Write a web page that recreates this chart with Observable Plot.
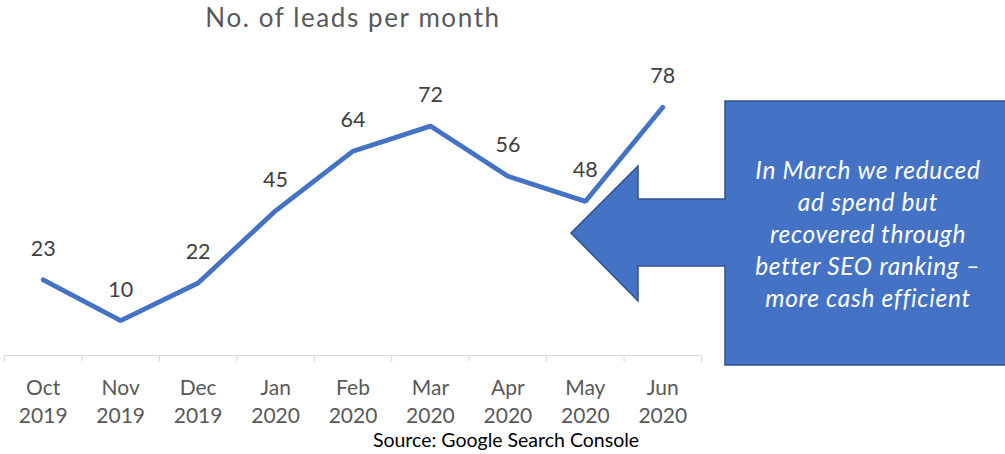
<!DOCTYPE html>
<html><head><meta charset="utf-8">
<script src="https://cdn.jsdelivr.net/npm/d3@7"></script>
<script src="https://cdn.jsdelivr.net/npm/@observablehq/plot@0.6"></script>
<style>html,body{margin:0;padding:0;background:#fff;}</style>
</head><body><div id="chart"></div>
<script>
const months = ["Oct", "Nov", "Dec", "Jan", "Feb", "Mar", "Apr", "May", "Jun"];
const years = ["2019", "2019", "2019", "2020", "2020", "2020", "2020", "2020", "2020"];
const leads = [23, 10, 22, 45, 64, 72, 56, 48, 78];
const chartTitle = "No. of leads per month";
const sourceNote = "Source: Google Search Console";
const calloutLines = ["In March we reduced", "ad spend but", "recovered through", "better SEO ranking –", "more cash efficient"];

const FONT = "Lato, 'Open Sans', sans-serif";
const data = leads.map((v, i) => ({i, v, label: months[i] + "\n" + years[i]}));
const boundaries = d3.range(months.length + 1).map(k => k - 0.5);

function callout() {
  const g = d3.create("svg:g");
  g.append("path")
    .attr("d", "M571,233 L638,166 L638,199 L725,199 L725,101 L1012,101 L1012,365 L725,365 L725,266 L638,266 L638,301 Z")
    .attr("fill", "#4472C4").attr("stroke", "#2F528F").attr("stroke-width", 1.5);
  const t = g.append("text").attr("fill", "#ffffff").attr("font-style", "italic")
    .attr("font-size", 24.5).attr("letter-spacing", 0.7).attr("font-family", FONT).attr("text-anchor", "middle");
  calloutLines.forEach((s, k) => t.append("tspan").attr("x", 868).attr("y", 170 + 32 * k).attr("dy", "0.35em").text(s));
  return g.node();
}

const chart = Plot.plot({
  width: 1005,
  height: 454,
  marginLeft: 4,
  marginRight: 304,
  marginTop: 100.5,
  marginBottom: 99,
  style: {fontFamily: FONT, color: "#d9d9d9", background: "#ffffff", overflow: "visible"},
  x: {domain: [-0.5, months.length - 0.5], ticks: boundaries, tickSize: 7, tickFormat: () => "", line: true, label: null},
  y: {domain: [0, 80], insetBottom: 3.5, axis: null},
  marks: [
    Plot.lineY(data, {x: "i", y: "v", stroke: "#4472C4", strokeWidth: 4.8, strokeLinejoin: "miter", strokeLinecap: "round"}),
    Plot.text(data, {x: "i", y: "v", text: d => String(d.v), dy: -31, fill: "#404040", fontSize: 21.5, lineAnchor: "middle"}),
    Plot.text(data, {x: "i", text: "label", frameAnchor: "bottom", dy: 45, fill: "#595959", fontSize: 21, lineHeight: 1.33, lineAnchor: "middle"}),
    Plot.text([chartTitle], {text: d => d, frameAnchor: "top", dy: -82.5, fill: "#595959", fontSize: 26, lineAnchor: "middle"}),
    Plot.text([sourceNote], {text: d => d, frameAnchor: "bottom", dx: 153, dy: 85, fill: "#000000", fontSize: 19.5, lineAnchor: "middle"}),
    callout
  ]
});
d3.select(chart).selectAll("text").filter(function() { return this.textContent === chartTitle; })
  .attr("letter-spacing", 1.6);
document.getElementById("chart").appendChild(chart);
</script>
</body></html>
